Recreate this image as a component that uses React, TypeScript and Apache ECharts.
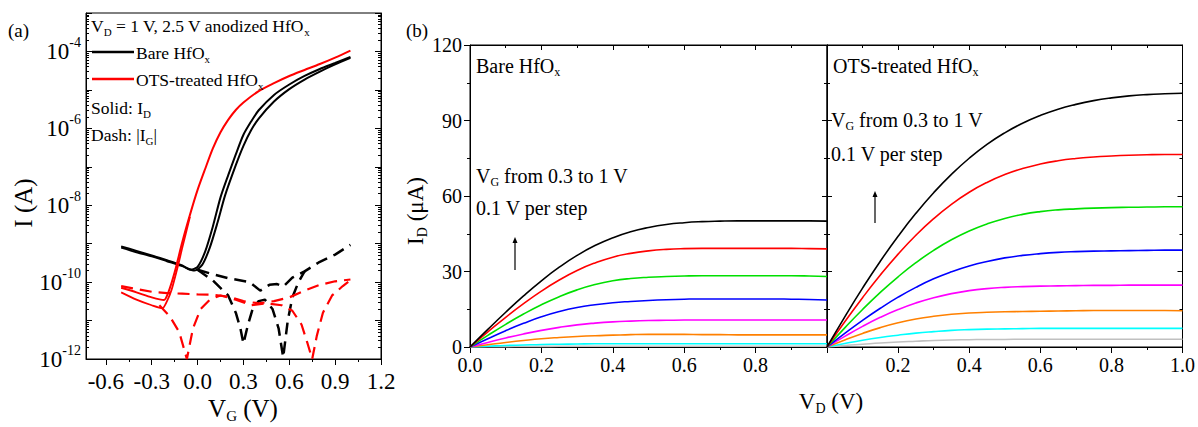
import React, { useEffect, useRef } from 'react';
import * as echarts from 'echarts';

const FONT = 'Liberation Serif';

// ---------- Panel (a): transfer curves (V_D = 1 V) ----------
const aXTicks = [-0.6, -0.3, 0, 0.3, 0.6, 0.9, 1.2];
const aXMinorTicks = [-0.45, -0.15, 0.15, 0.45, 0.75, 1.05];

const bareFwdVg = [-0.5, -0.4, -0.3, -0.2, -0.1, -0.05, 0, 0.05, 0.1, 0.15, 0.2, 0.25, 0.3, 0.35, 0.4, 0.5, 0.6, 0.7, 0.8, 0.9, 1.0];
const bareFwdId = [8.5e-10, 6.5e-10, 4.9e-10, 3.7e-10, 2.7e-10, 2.1e-10, 2.5e-10, 6.3e-10, 2.8e-9, 1.6e-8, 6.0e-8, 2.1e-7, 6.8e-7, 1.5e-6, 2.95e-6, 7.4e-6, 1.38e-5, 2.3e-5, 3.5e-5, 5.0e-5, 7.2e-5];

const bareRevVg = [-0.5, -0.4, -0.3, -0.2, -0.1, -0.02, 0.03, 0.08, 0.13, 0.18, 0.25, 0.3, 0.35, 0.4, 0.5, 0.6, 0.7, 0.8, 0.9, 1.0];
const bareRevId = [7.9e-10, 6.0e-10, 4.7e-10, 3.5e-10, 2.6e-10, 2.0e-10, 2.8e-10, 7.9e-10, 3.5e-9, 1.8e-8, 1.1e-7, 3.5e-7, 8.9e-7, 1.8e-6, 5.0e-6, 1.05e-5, 1.86e-5, 3.0e-5, 4.6e-5, 6.8e-5];

const otsFwdVg = [-0.5, -0.4, -0.3, -0.22, -0.19, -0.15, -0.1, -0.05, 0, 0.05, 0.1, 0.15, 0.2, 0.25, 0.3, 0.4, 0.5, 0.6, 0.7, 0.8, 0.9, 1.0];
const otsFwdId = [7.1e-11, 5.4e-11, 4.0e-11, 3.4e-11, 5.6e-11, 1.8e-10, 1.1e-9, 5.6e-9, 2.5e-8, 8.9e-8, 3.0e-7, 7.9e-7, 1.66e-6, 3.0e-6, 4.7e-6, 9.3e-6, 1.5e-5, 2.3e-5, 3.3e-5, 4.7e-5, 6.9e-5, 1.05e-4];

const otsRevVg = [-0.5, -0.4, -0.3, -0.23, -0.2, -0.17, -0.13, -0.1, -0.05];
const otsRevId = [5.4e-11, 3.5e-11, 2.5e-11, 2.1e-11, 3.2e-11, 6.3e-11, 2.5e-10, 7.9e-10, 5.0e-9];

const bareIgAVg = [0.0, 0.1, 0.2, 0.3, 0.34, 0.41, 0.47, 0.52, 0.56, 0.62, 0.7, 0.79, 0.9, 1.0];
const bareIgA = [2.1e-10, 1.6e-10, 1.26e-10, 1.07e-10, 1.0e-10, 6.0e-11, 8.5e-11, 8.9e-11, 7.6e-11, 1.3e-10, 1.9e-10, 3.2e-10, 5.2e-10, 9.3e-10];

const bareIgBVg = [0.0, 0.1, 0.2, 0.25, 0.28, 0.3, 0.33, 0.36, 0.4, 0.44, 0.49, 0.53, 0.56, 0.59, 0.62, 0.66, 0.7];
const bareIgB = [2.1e-10, 1.1e-10, 4.5e-11, 1.6e-11, 6.3e-12, 2.5e-12, 7.9e-12, 2.0e-11, 3.2e-11, 3.5e-11, 2.0e-11, 6.3e-12, 1.1e-12, 1.0e-11, 4.0e-11, 1.0e-10, 1.9e-10];

const otsIgAVg = [-0.5, -0.4, -0.3, -0.2, -0.1, 0.0, 0.1, 0.2, 0.3, 0.4, 0.5, 0.6, 0.7, 0.8, 0.9, 1.0];
const otsIgA = [7.9e-11, 6.6e-11, 5.6e-11, 5.2e-11, 5.0e-11, 4.8e-11, 4.7e-11, 4.2e-11, 3.2e-11, 2.8e-11, 3.2e-11, 4.0e-11, 6.0e-11, 8.5e-11, 1.05e-10, 1.17e-10];

const otsIgBVg = [-0.25, -0.18, -0.12, -0.07, -0.03, 0.02, 0.08, 0.15, 0.25, 0.35, 0.45, 0.55, 0.62, 0.68, 0.72, 0.75, 0.78, 0.82, 0.88, 0.95, 1.0];
const otsIgB = [2.5e-11, 1.26e-11, 5.0e-12, 1.0e-12, 6.3e-12, 2.0e-11, 3.5e-11, 4.5e-11, 3.5e-11, 2.5e-11, 2.8e-11, 2.5e-11, 1.8e-11, 7.9e-12, 2.5e-12, 1.0e-12, 4.0e-12, 1.6e-11, 4.5e-11, 7.9e-11, 1.12e-10];

// ---------- Panel (b): output curves, V_G = 1.0 ... 0.3 V ----------
const vdValues = [0, 0.05, 0.1, 0.15, 0.2, 0.25, 0.3, 0.35, 0.4, 0.45, 0.5, 0.55, 0.6, 0.65, 0.7, 0.75, 0.8, 0.85, 0.9, 0.95, 1.0];

const bareVg10 = [0, 7.0, 13.8, 20.3, 26.3, 31.7, 36.4, 40.3, 43.4, 45.8, 47.5, 48.7, 49.4, 49.8, 50.0, 50.1, 50.1, 50.1, 50.1, 50.1, 50.0];
const bareVg09 = [0, 6.0, 11.8, 17.2, 22.2, 26.6, 30.4, 33.4, 35.7, 37.2, 38.2, 38.8, 39.1, 39.2, 39.2, 39.2, 39.2, 39.2, 39.2, 39.1, 39.0];
const bareVg08 = [0, 4.6, 9.0, 13.1, 16.8, 20.0, 22.7, 24.8, 26.3, 27.2, 27.7, 28.0, 28.2, 28.3, 28.3, 28.3, 28.3, 28.3, 28.3, 28.2, 28.0];
const bareVg07 = [0, 3.3, 6.5, 9.4, 12.0, 14.1, 15.7, 16.8, 17.6, 18.1, 18.5, 18.8, 19.0, 19.1, 19.1, 19.1, 19.1, 19.1, 19.0, 18.9, 18.7];
const bareVg06 = [0, 1.8, 3.6, 5.2, 6.6, 7.8, 8.8, 9.5, 10.0, 10.3, 10.5, 10.6, 10.7, 10.7, 10.7, 10.7, 10.7, 10.7, 10.7, 10.7, 10.7];
const bareVg05 = [0, 0.9, 1.8, 2.6, 3.3, 3.8, 4.2, 4.5, 4.7, 4.9, 5.0, 5.0, 5.0, 4.9, 4.9, 4.8, 4.8, 4.8, 4.8, 4.8, 4.8];
const bareVg04 = [0, 0.3, 0.6, 0.8, 1.0, 1.1, 1.2, 1.3, 1.3, 1.3, 1.3, 1.3, 1.3, 1.3, 1.3, 1.3, 1.3, 1.3, 1.3, 1.3, 1.3];
const bareVg03 = [0, 0.1, 0.15, 0.2, 0.25, 0.28, 0.3, 0.3, 0.3, 0.3, 0.3, 0.3, 0.3, 0.3, 0.3, 0.3, 0.3, 0.3, 0.3, 0.3, 0.3];

const otsVg10 = [0, 12.0, 23.4, 34.1, 44.0, 53.1, 61.3, 68.6, 75.0, 80.5, 85.1, 88.9, 92.0, 94.5, 96.4, 97.9, 99.0, 99.8, 100.3, 100.6, 100.8];
const otsVg09 = [0, 10.0, 19.6, 28.6, 36.9, 44.4, 51.0, 56.7, 61.5, 65.4, 68.5, 70.9, 72.7, 74.0, 74.9, 75.5, 75.9, 76.2, 76.4, 76.5, 76.5];
const otsVg08 = [0, 7.6, 14.9, 21.7, 27.9, 33.5, 38.4, 42.6, 46.1, 48.9, 51.1, 52.7, 53.8, 54.5, 54.9, 55.2, 55.4, 55.5, 55.6, 55.7, 55.7];
const otsVg07 = [0, 5.4, 10.6, 15.4, 19.8, 23.7, 27.1, 29.9, 32.2, 34.0, 35.4, 36.4, 37.1, 37.6, 37.9, 38.1, 38.2, 38.3, 38.4, 38.5, 38.5];
const otsVg06 = [0, 4.2, 8.2, 11.8, 14.9, 17.5, 19.6, 21.2, 22.4, 23.2, 23.7, 24.0, 24.2, 24.3, 24.4, 24.5, 24.5, 24.6, 24.6, 24.6, 24.6];
const otsVg05 = [0, 2.8, 5.4, 7.7, 9.6, 11.1, 12.2, 13.0, 13.5, 13.8, 14.0, 14.1, 14.2, 14.3, 14.4, 14.5, 14.5, 14.5, 14.5, 14.5, 14.4];
const otsVg04 = [0, 1.4, 2.7, 3.8, 4.7, 5.5, 6.1, 6.6, 6.9, 7.1, 7.2, 7.3, 7.4, 7.4, 7.4, 7.4, 7.4, 7.4, 7.4, 7.4, 7.4];
const otsVg03 = [0, 0.6, 1.1, 1.6, 2.0, 2.3, 2.6, 2.8, 2.9, 3.0, 3.0, 3.1, 3.1, 3.1, 3.1, 3.1, 3.1, 3.1, 3.1, 3.1, 3.1];

const curveColors = ['#000000', '#ff0000', '#00e000', '#0000ff', '#ff00ff', '#ff8000', '#00ffff', '#c0c0c0'];
const bareCurves = [bareVg10, bareVg09, bareVg08, bareVg07, bareVg06, bareVg05, bareVg04, bareVg03];
const otsCurves = [otsVg10, otsVg09, otsVg08, otsVg07, otsVg06, otsVg05, otsVg04, otsVg03];

const toLogPairs = (xs: number[], ys: number[]) => xs.map((x, i) => [x, Math.log10(ys[i])]);
const toPairs = (xs: number[], ys: number[]) => xs.map((x, i) => [x, ys[i]]);

const logMinor: number[] = [];
for (let n = -12; n < -3; n++) {
  for (let k = 2; k <= 9; k++) logMinor.push(n + Math.log10(k));
}

const black = '#000';
const axisLine = { show: true, onZero: false, lineStyle: { color: black, width: 1 } };
const noLine = { show: false, onZero: false };
const noSplit = { show: false };

function buildOption(): any {
  const lbl = (size: number, extra: any = {}) => ({ fontFamily: FONT, fontSize: size, color: black, ...extra });

  const xAxis: any[] = [
    {
      gridIndex: 0, type: 'value', min: -0.73, max: 1.2, position: 'bottom',
      axisLine, splitLine: noSplit,
      axisTick: { customValues: aXTicks, length: 6, lineStyle: { color: black } },
      axisLabel: lbl(23, { customValues: aXTicks, margin: 11, formatter: (v: number) => v.toFixed(1) }),
    },
    {
      gridIndex: 0, type: 'value', min: -0.73, max: 1.2, position: 'bottom',
      axisLine: noLine, splitLine: noSplit, axisLabel: { show: false },
      axisTick: { customValues: aXMinorTicks, length: 3, lineStyle: { color: black } },
    },
    {
      gridIndex: 1, type: 'value', min: 0, max: 1, interval: 0.2, position: 'bottom',
      axisLine, splitLine: noSplit,
      axisTick: { length: 6, lineStyle: { color: black } },
      minorTick: { show: true, splitNumber: 2, length: 3, lineStyle: { color: black } },
      axisLabel: lbl(20, { margin: 8, formatter: (v: number) => (v > 0.99 ? '' : v.toFixed(1)) }),
    },
    {
      gridIndex: 1, type: 'value', min: 0, max: 1, interval: 0.2, position: 'top',
      axisLine, splitLine: noSplit, axisLabel: { show: false },
      axisTick: { inside: true, length: 5, lineStyle: { color: black } },
      minorTick: { show: true, splitNumber: 2, length: 3, lineStyle: { color: black } },
    },
    {
      gridIndex: 2, type: 'value', min: 0, max: 1, interval: 0.2, position: 'bottom',
      axisLine, splitLine: noSplit,
      axisTick: { length: 6, lineStyle: { color: black } },
      minorTick: { show: true, splitNumber: 2, length: 3, lineStyle: { color: black } },
      axisLabel: lbl(20, { margin: 8, formatter: (v: number) => (v < 0.01 ? '' : v.toFixed(1)) }),
    },
    {
      gridIndex: 2, type: 'value', min: 0, max: 1, interval: 0.2, position: 'top',
      axisLine, splitLine: noSplit, axisLabel: { show: false },
      axisTick: { inside: true, length: 5, lineStyle: { color: black } },
      minorTick: { show: true, splitNumber: 2, length: 3, lineStyle: { color: black } },
    },
  ];

  const yAxis: any[] = [
    {
      gridIndex: 0, type: 'value', min: -12, max: -3, interval: 1, position: 'left',
      axisLine, splitLine: noSplit,
      axisTick: { inside: true, length: 6, lineStyle: { color: black } },
      axisLabel: {
        margin: 5,
        formatter: (v: number) => (v % 2 === 0 ? `{b|10}{s|${v}}` : ''),
        rich: {
          b: { fontFamily: FONT, fontSize: 23, color: black },
          s: { fontFamily: FONT, fontSize: 14, color: black, padding: [0, 0, 18, 0] },
        },
      },
    },
    {
      gridIndex: 0, type: 'value', min: -12, max: -3, position: 'left',
      axisLine: noLine, splitLine: noSplit, axisLabel: { show: false },
      axisTick: { customValues: logMinor, inside: true, length: 3, lineStyle: { color: black } },
    },
    {
      gridIndex: 0, type: 'value', min: -12, max: -3, interval: 1, position: 'right',
      axisLine, splitLine: noSplit, axisLabel: { show: false },
      axisTick: { inside: true, length: 6, lineStyle: { color: black } },
    },
    {
      gridIndex: 0, type: 'value', min: -12, max: -3, position: 'right',
      axisLine: noLine, splitLine: noSplit, axisLabel: { show: false },
      axisTick: { customValues: logMinor, inside: true, length: 3, lineStyle: { color: black } },
    },
    {
      gridIndex: 1, type: 'value', min: 0, max: 120, interval: 30, position: 'left',
      axisLine, splitLine: noSplit,
      axisTick: { length: 6, lineStyle: { color: black } },
      minorTick: { show: true, splitNumber: 2, length: 3, lineStyle: { color: black } },
      axisLabel: lbl(20, { margin: 8 }),
    },
    {
      gridIndex: 1, type: 'value', min: 0, max: 120, interval: 30, position: 'right',
      axisLine, splitLine: noSplit, axisLabel: { show: false },
      axisTick: { inside: true, length: 5, lineStyle: { color: black } },
      minorTick: { show: true, splitNumber: 2, length: 3, lineStyle: { color: black } },
    },
    {
      gridIndex: 2, type: 'value', min: 0, max: 120, interval: 30, position: 'left',
      axisLine, splitLine: noSplit, axisLabel: { show: false },
      axisTick: { inside: true, length: 5, lineStyle: { color: black } },
      minorTick: { show: true, splitNumber: 2, length: 3, lineStyle: { color: black } },
    },
    {
      gridIndex: 2, type: 'value', min: 0, max: 120, interval: 30, position: 'right',
      axisLine, splitLine: noSplit, axisLabel: { show: false },
      axisTick: { inside: true, length: 5, lineStyle: { color: black } },
      minorTick: { show: true, splitNumber: 2, length: 3, lineStyle: { color: black } },
    },
  ];

  const series: any[] = [];
  const aLine = (name: string, data: any[], color: string, width: number, dashed: boolean, smooth: any) => ({
    name, type: 'line', xAxisIndex: 0, yAxisIndex: 0, data, showSymbol: false, symbol: 'none',
    smooth, clip: true, z: dashed ? 2 : 3,
    lineStyle: { color, width, type: dashed ? [12, 7] : 'solid' },
  });
  series.push(aLine('Bare I_D fwd', toLogPairs(bareFwdVg, bareFwdId), '#000', 2, false, 0.25));
  series.push(aLine('Bare I_D rev', toLogPairs(bareRevVg, bareRevId), '#000', 2, false, 0.25));
  series.push(aLine('OTS I_D fwd', toLogPairs(otsFwdVg, otsFwdId), '#ff0000', 2, false, 0.25));
  series.push(aLine('OTS I_D rev', toLogPairs(otsRevVg, otsRevId), '#ff0000', 1.8, false, 0.25));
  series.push(aLine('Bare I_G a', toLogPairs(bareIgAVg, bareIgA), '#000', 2.5, true, false));
  series.push(aLine('Bare I_G b', toLogPairs(bareIgBVg, bareIgB), '#000', 2.5, true, false));
  series.push(aLine('OTS I_G a', toLogPairs(otsIgAVg, otsIgA), '#ff0000', 2.2, true, false));
  series.push(aLine('OTS I_G b', toLogPairs(otsIgBVg, otsIgB), '#ff0000', 2.2, true, false));

  bareCurves.forEach((ys, i) => {
    series.push({
      name: `Bare VG ${(1 - i * 0.1).toFixed(1)}`, type: 'line', xAxisIndex: 2, yAxisIndex: 4,
      data: toPairs(vdValues, ys), showSymbol: false, symbol: 'none', smooth: 0.5, z: 10 - i,
      lineStyle: { color: curveColors[i], width: 1.6 },
    });
  });
  otsCurves.forEach((ys, i) => {
    series.push({
      name: `OTS VG ${(1 - i * 0.1).toFixed(1)}`, type: 'line', xAxisIndex: 4, yAxisIndex: 6,
      data: toPairs(vdValues, ys), showSymbol: false, symbol: 'none', smooth: 0.5, z: 10 - i,
      lineStyle: { color: curveColors[i], width: 1.6 },
    });
  });

  const rt = (size: number, sub: number, subPad: number) => ({
    n: { fontFamily: FONT, fontSize: size, fill: black },
    sub: { fontFamily: FONT, fontSize: sub, fill: black, padding: [subPad, 0, 0, 0] },
  });
  const txt = (x: number, y: number, text: string, size: number, opts: any = {}) => ({
    type: 'text', x, y, rotation: opts.rotation || 0, z: 100,
    style: {
      text, fontFamily: FONT, fontSize: size, fill: black,
      align: opts.align || 'left', verticalAlign: opts.verticalAlign || 'middle',
      rich: rt(size, opts.sub || Math.round(size * 0.6), opts.subPad ?? Math.round(size * 0.6)),
    },
  });

  const graphic: any[] = [
    txt(8, 30, '{n|(a)}', 19),
    txt(406, 30, '{n|(b)}', 19),
    txt(91, 26, '{n|V}{sub|D}{n| = 1 V, 2.5 V anodized HfO}{sub|x}', 17.5),
    { type: 'line', shape: { x1: 92, y1: 52, x2: 134, y2: 52 }, style: { stroke: '#000', lineWidth: 2.5 }, z: 100 },
    txt(136, 53, '{n|Bare HfO}{sub|x}', 17.5),
    { type: 'line', shape: { x1: 92, y1: 79, x2: 134, y2: 79 }, style: { stroke: '#ff0000', lineWidth: 2.5 }, z: 100 },
    txt(136, 80, '{n|OTS-treated HfO}{sub|x}', 17.5),
    txt(91, 108, '{n|Solid: I}{sub|D}', 17.5),
    txt(91, 135, '{n|Dash: |I}{sub|G}{n||}', 17.5),
    txt(23, 203, '{n|I (A)}', 25, { rotation: Math.PI / 2, align: 'center' }),
    txt(243, 408, '{n|V}{sub|G}{n| (V)}', 25, { align: 'center' }),
    txt(476, 66, '{n|Bare HfO}{sub|x}', 20),
    txt(476, 176, '{n|V}{sub|G}{n| from 0.3 to 1 V}', 20),
    txt(476, 208, '{n|0.1 V per step}', 20),
    txt(833, 66, '{n|OTS-treated HfO}{sub|x}', 20),
    txt(831, 120, '{n|V}{sub|G}{n| from 0.3 to 1 V}', 20),
    txt(831, 154, '{n|0.1 V per step}', 20),
    { type: 'line', shape: { x1: 515, y1: 270, x2: 515, y2: 242 }, style: { stroke: '#000', lineWidth: 1.2 }, z: 100 },
    { type: 'polygon', shape: { points: [[512.5, 243], [517.5, 243], [515, 237]] }, style: { fill: '#000' }, z: 100 },
    { type: 'line', shape: { x1: 875, y1: 223, x2: 875, y2: 196 }, style: { stroke: '#000', lineWidth: 1.2 }, z: 100 },
    { type: 'polygon', shape: { points: [[872.5, 197], [877.5, 197], [875, 191]] }, style: { fill: '#000' }, z: 100 },
    txt(415, 211, '{n|I}{sub|D}{n| (μA)}', 23, { rotation: Math.PI / 2, align: 'center' }),
    txt(831, 401, '{n|V}{sub|D}{n| (V)}', 23, { align: 'center' }),
  ];

  return {
    animation: false,
    backgroundColor: '#fff',
    textStyle: { fontFamily: FONT },
    grid: [
      { left: 86, top: 13, width: 295, height: 346, show: true, borderColor: black, borderWidth: 1, backgroundColor: 'transparent' },
      { left: 470, top: 45, width: 357, height: 302, show: true, borderColor: black, borderWidth: 1, backgroundColor: 'transparent' },
      { left: 827, top: 45, width: 356, height: 302, show: true, borderColor: black, borderWidth: 1, backgroundColor: 'transparent' },
    ],
    xAxis,
    yAxis,
    series,
    graphic,
  };
}

export default function App() {
  const ref = useRef<HTMLDivElement>(null);
  useEffect(() => {
    if (!ref.current) return;
    const chart = echarts.init(ref.current, undefined, { renderer: 'svg' });
    chart.setOption(buildOption());
    return () => chart.dispose();
  }, []);
  return (
    <div
      ref={ref}
      style={{ position: 'fixed', left: 0, top: 0, width: 1198, height: 427, background: '#fff' }}
    />
  );
}
